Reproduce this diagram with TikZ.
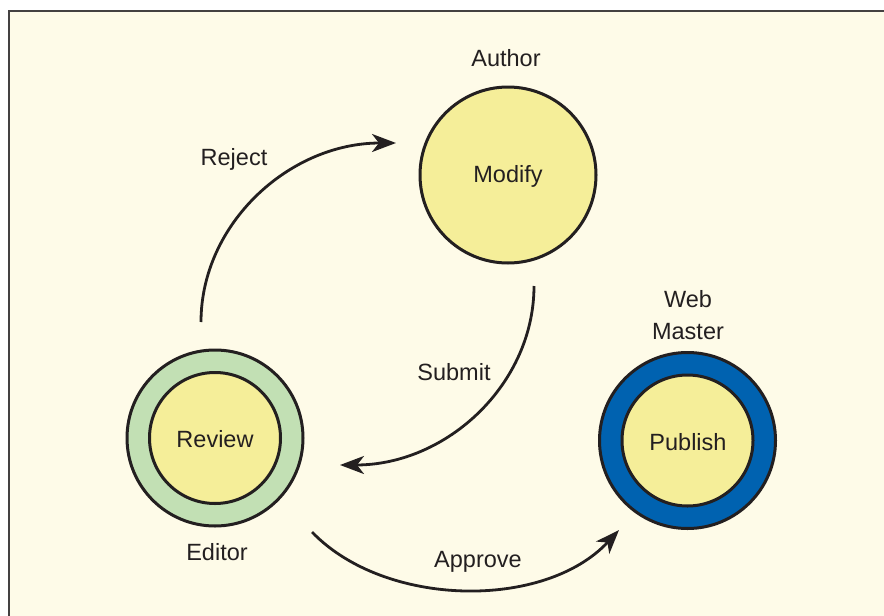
\documentclass[tikz,border=0pt]{standalone}
\usepackage{fontspec}
\setmainfont{Liberation Sans}
\usetikzlibrary{arrows.meta}
\definecolor{cream}{HTML}{FEFBE8}
\definecolor{pale}{HTML}{F5EE99}
\definecolor{sage}{HTML}{C2E0B4}
\definecolor{royal}{HTML}{0062B0}
\definecolor{ink}{HTML}{231F20}
\tikzset{
  lbl/.style={font=\fontsize{23.5}{28}\selectfont, text=ink, inner sep=0pt},
  ring/.style={circle, draw=ink, line width=3pt, minimum size=176pt, inner sep=0pt},
  core/.style={circle, draw=ink, fill=pale, line width=3pt, minimum size=131pt, inner sep=0pt},
  flow/.style={draw=ink, line width=2.8pt, -{Stealth[length=24pt,width=18pt,inset=7pt]}}
}
\begin{document}
\begin{tikzpicture}[x=1pt,y=-1pt]
\useasboundingbox (0,0) rectangle (884,616);
\fill[white] (0,0) rectangle (884,616);
\draw[fill=cream, draw=ink!85, line width=1.8pt] (9,11) -- (895,11) -- (895,625) -- (9,625) -- cycle;
% Author / Modify
\node[core, minimum size=176pt] (modify) at (508,175) {};
\node[lbl] (modifytxt) at (508,176) {Modify};
\node[lbl] (author) at (506,58) {Author};
% Editor / Review
\node[ring, fill=sage] (reviewring) at (215,438) {};
\node[core] (review) at (215,438) {};
\node[lbl] (reviewtxt) at (215,439) {Review};
\node[lbl] (editor) at (217,552) {Editor};
% Web Master / Publish
\node[ring, fill=royal] (publishring) at (687.5,440.5) {};
\node[core] (publish) at (687.5,440.5) {};
\node[lbl] (publishtxt) at (688,442) {Publish};
\node[lbl, align=center] (web) at (688,315) {Web\\[4pt]Master};
% connectors
\coordinate (rs) at (201,322);
\coordinate (re) at (396,143);
\coordinate (ss) at (534,286);
\coordinate (se) at (340,465);
\coordinate (as) at (312,532);
\coordinate (ae) at (619,530);
\draw[flow] (rs) .. controls (201,224) and (289,143) .. (re);
\draw[flow] (ss) .. controls (534,384) and (447,465) .. (se);
\draw[flow] (as) .. controls (385,608) and (545,610) .. (ae);
\node[lbl] (reject) at (234,159) {Reject};
\node[lbl] (submit) at (454,372) {Submit};
\node[lbl] (approve) at (478,562) {Approve};
\end{tikzpicture}
\end{document}
